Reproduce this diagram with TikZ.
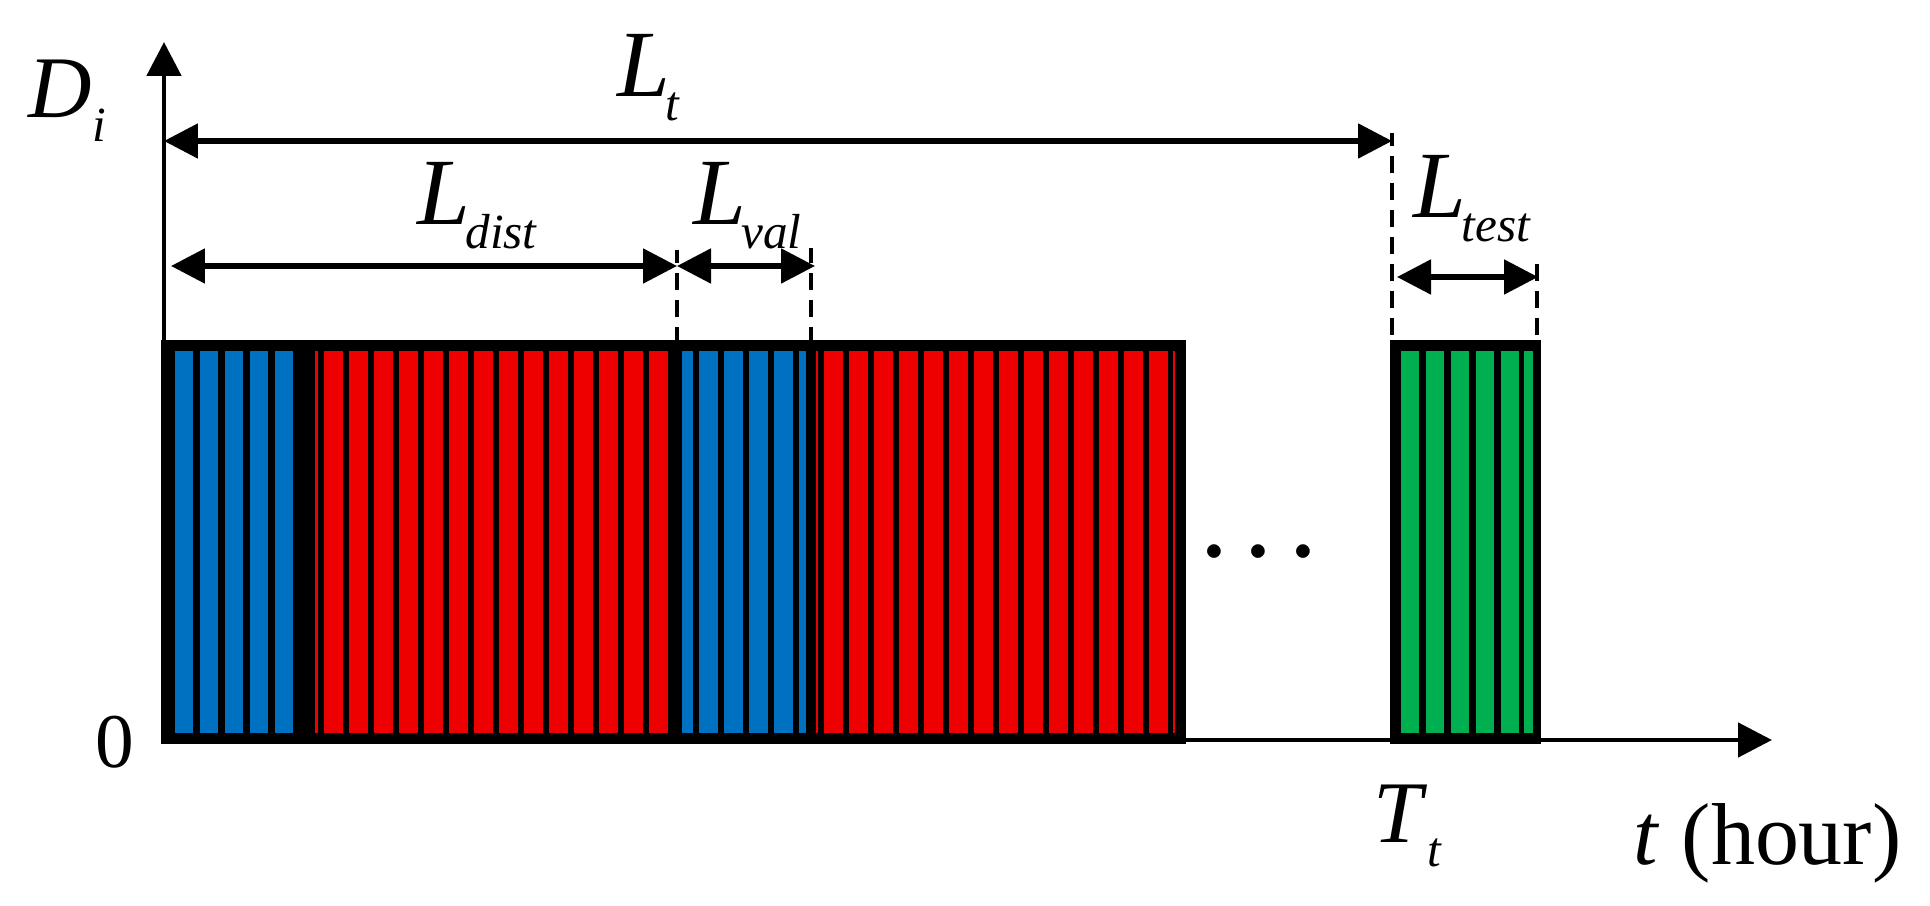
\documentclass[tikz,border=0pt]{standalone}
\usepackage{fontspec}
\setmainfont{Liberation Serif}
\usetikzlibrary{arrows.meta, positioning, calc}

\definecolor{valblue}{HTML}{0070C0}
\definecolor{trainred}{HTML}{EE0000}
\definecolor{testgreen}{HTML}{00B050}

\newcommand{\lowsub}[1]{\raisebox{-0.24cm}{\fontsize{14}{14}\selectfont\itshape #1}}
\newcommand{\seglabel}[2]{\textit{#1}\kern-0.05cm\lowsub{#2}}

\begin{document}
\begin{tikzpicture}[>={Triangle[length=0.34cm, width=0.34cm]}, every node/.style={inner sep=0pt, font=\fontsize{25}{30}\selectfont}]
    \tikzstyle{axis}=[->, line width=1.4pt]
    \tikzstyle{span}=[<->, line width=1.5pt]
    \tikzstyle{guide}=[dash pattern=on 0.17cm off 0.1cm, line width=1.4pt]
    \tikzstyle{block}=[fill=black, draw=black, line width=2pt]
    \tikzstyle{seg}=[anchor=base west, font=\fontsize{27}{30}\selectfont]

    \useasboundingbox (-1.64,-1.66) rectangle (17.66,7.40);

    % data blocks
    \draw[block] (0.01,0) rectangle (10.18,3.96);
    \foreach \i in {0,...,4}
        \fill[valblue] ({0.11+0.25*\i},0.07) rectangle ++(0.185,3.82);
    \fill[trainred] (1.51,0.07) rectangle (1.54,3.89);
    \foreach \i in {0,...,13}
        \fill[trainred] ({1.60+0.25*\i},0.07) rectangle ++(0.19,3.82);
    \fill[valblue] (5.18,0.07) rectangle (5.29,3.89);
    \foreach \i in {0,...,3}
        \fill[valblue] ({5.35+0.25*\i},0.07) rectangle ++(0.19,3.82);
    \fill[valblue] (6.35,0.07) rectangle (6.42,3.89);
    \fill[trainred] (6.52,0.07) rectangle (6.54,3.89);
    \foreach \i in {0,...,13}
        \fill[trainred] ({6.60+0.25*\i},0.07) rectangle ++(0.19,3.82);
    \fill[trainred] (10.09,0.07) rectangle (10.11,3.89);

    \draw[block] (12.30,0) rectangle (13.73,3.96);
    \foreach \i in {0,...,4}
        \fill[testgreen] ({12.37+0.25*\i},0.07) rectangle ++(0.18,3.82);
    \fill[testgreen] (13.60,0.07) rectangle (13.69,3.89);

    % axes
    \coordinate (O) at (0,0);
    \coordinate (ytop) at (0,6.98);
    \coordinate (xend) at (16.08,0);
    \draw[axis] (O) -- (ytop);
    \draw[axis] (O) -- (xend);

    % guides
    \coordinate (Ttlow) at (12.28,0);
    \coordinate (Tthigh) at (12.28,6.07);
    \coordinate (testlow) at (13.73,0);
    \coordinate (testhigh) at (13.73,4.78);
    \coordinate (vallow) at (5.13,3.96);
    \coordinate (valhigh) at (5.13,4.90);
    \coordinate (valendlow) at (6.47,3.96);
    \coordinate (valendhigh) at (6.47,4.92);
    \draw[guide] (Ttlow) -- (Tthigh);
    \draw[guide] (testlow) -- (testhigh);
    \draw[guide] (vallow) -- (valhigh);
    \draw[guide] (valendlow) -- (valendhigh);

    % spans
    \coordinate (ltstart) at (0,5.99);
    \coordinate (ltend) at (12.28,5.99);
    \coordinate (diststart) at (0.07,4.74);
    \coordinate (distend) at (5.13,4.74);
    \coordinate (valend) at (6.51,4.74);
    \coordinate (teststart) at (12.33,4.63);
    \coordinate (testend) at (13.74,4.63);
    \draw[span] (ltstart) -- (ltend);
    \draw[span] (diststart) -- (distend);
    \draw[span] (distend) -- (valend);
    \draw[span] (teststart) -- (testend);

    % labels
    \node[anchor=base west] (Di) at (-1.36,6.22) {\textit{D}\lowsub{i}};
    \node[seg] (Lt) at (4.53,6.43) {\seglabel{L}{t}};
    \node[seg] (Ldist) at (2.53,5.15) {\seglabel{L}{dist}};
    \node[seg] (Lval) at (5.29,5.15) {\seglabel{L}{val}};
    \node[seg] (Ltest) at (12.49,5.22) {\seglabel{L}{test}};
    \node[anchor=base, font=\fontsize{22}{24}\selectfont] (zero) at (-0.49,-0.27) {0};
    \node[anchor=base west] (Tt) at (12.09,-1.03) {\textit{T}\lowsub{t}};
    \node[anchor=base west] (tlab) at (14.69,-1.25) {\textit{t} (hour)};
    \node[anchor=base, font=\fontsize{23}{28}\selectfont\boldmath] (dots) at (10.95,1.66) {$\cdots$};
\end{tikzpicture}
\end{document}
